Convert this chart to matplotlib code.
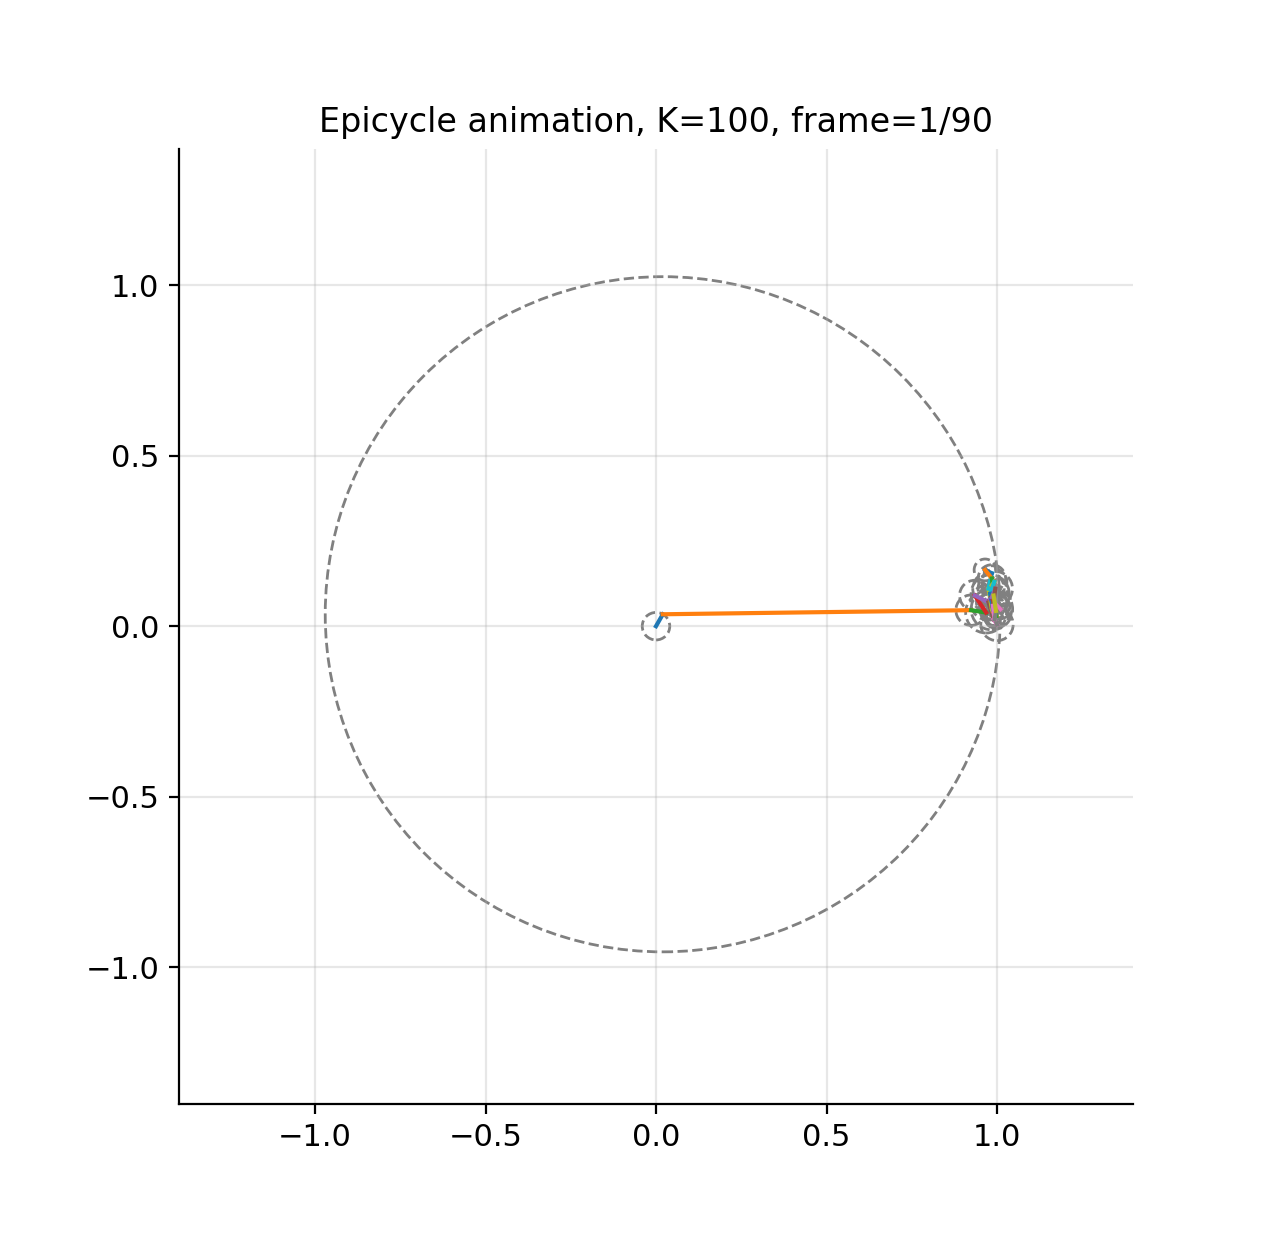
import numpy as np
import matplotlib; matplotlib.use('Agg')
import matplotlib.pyplot as plt

# chain of epicycle joints (data coords)
chain_x = [0.0, 0.02, 0.924, 0.968, 0.935, 0.975, 0.990, 1.000, 0.985, 0.975, 0.985,
           0.965, 0.985, 0.990, 0.980, 0.995, 1.010, 0.990, 0.985, 0.992, 0.980,
           0.990, 0.998, 0.992, 0.985, 0.995, 0.988, 0.993, 0.997, 0.990]
chain_y = [0.0, 0.035, 0.047, 0.040, 0.090, 0.070, 0.020, 0.005, 0.050, 0.110, 0.155,
           0.165, 0.140, 0.100, 0.080, 0.060, 0.050, 0.070, 0.120, 0.130, 0.095,
           0.040, 0.030, 0.065, 0.085, 0.110, 0.060, 0.020, 0.045, 0.090]
# the big circle is slightly larger than the visible orange arm
radius_override = {1: 0.99}

fig, ax = plt.subplots(figsize=(6.4, 6.2), dpi=200)
for i in range(len(chain_x) - 1):
    x0, y0, x1, y1 = chain_x[i], chain_y[i], chain_x[i+1], chain_y[i+1]
    r = radius_override.get(i, np.hypot(x1 - x0, y1 - y0))
    ax.add_patch(plt.Circle((x0, y0), r, fill=False, ls='--', color='gray', lw=1))
    ax.plot([x0, x1], [y0, y1], lw=1.5)

ax.set_xlim(-1.4, 1.4)
ax.set_ylim(-1.4, 1.4)
ax.set_aspect('equal')
ax.set_xticks([-1.0, -0.5, 0.0, 0.5, 1.0])
ax.set_yticks([-1.0, -0.5, 0.0, 0.5, 1.0])
ax.tick_params(labelsize=11)
ax.grid(True, alpha=0.3)
ax.spines['top'].set_visible(False)
ax.spines['right'].set_visible(False)
ax.set_title('Epicycle animation, K=100, frame=1/90', fontsize=12)
plt.savefig('out.png', dpi=200)
